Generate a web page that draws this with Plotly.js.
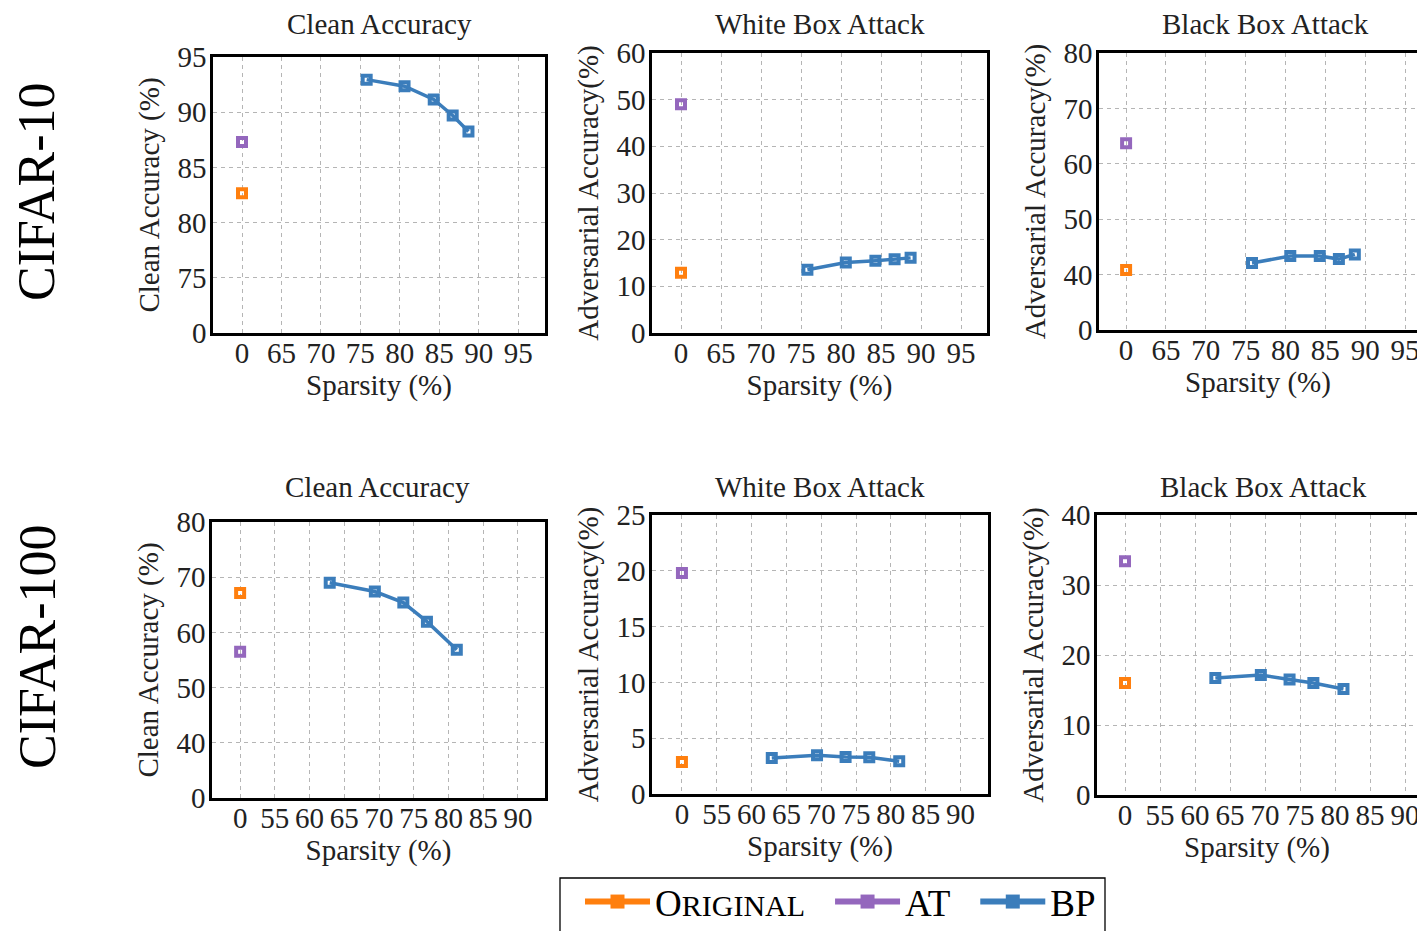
<!DOCTYPE html>
<html>
<head>
<meta charset="utf-8">
<script src="https://cdn.plot.ly/plotly-3.0.1.min.js"></script>
<style>
html,body{margin:0;padding:0;background:#fff;width:1417px;height:931px;overflow:hidden;}
#chart{width:1417px;height:960px;}
</style>
</head>
<body>
<div id="chart"></div>
<script>
// ---------------- data ----------------
const datasets = ['CIFAR-10', 'CIFAR-100'];
const panelTitles = ['Clean Accuracy', 'White Box Attack', 'Black Box Attack'];
const seriesNames = ['Original', 'AT', 'BP'];

// x tick labels (sparsity %), broken axis: 0 then regular steps
const xTicksC10 = [0, 65, 70, 75, 80, 85, 90, 95];
const xTicksC100 = [0, 55, 60, 65, 70, 75, 80, 85, 90];

// y tick labels
const yTicksC10Clean = [0, 75, 80, 85, 90, 95];
const yTicksC10White = [0, 10, 20, 30, 40, 50, 60];
const yTicksC10Black = [0, 40, 50, 60, 70, 80];
const yTicksC100Clean = [0, 40, 50, 60, 70, 80];
const yTicksC100White = [0, 5, 10, 15, 20, 25];
const yTicksC100Black = [0, 10, 20, 30, 40];

// sparsity of the original / adversarially trained dense models
const denseSparsity = [0];

// BP sparsity levels
const sparsityC10 = [75.8, 80.6, 84.3, 86.7, 88.7];
const sparsityC100 = [62.9, 69.4, 73.5, 76.9, 81.2];

// CIFAR-10
const c10CleanOriginal = [82.65];
const c10CleanAT = [87.3];
const c10CleanBP = [92.95, 92.35, 91.15, 89.7, 88.25];
const c10WhiteOriginal = [12.9];
const c10WhiteAT = [49.0];
const c10WhiteBP = [13.55, 15.1, 15.5, 15.8, 16.1];
const c10BlackOriginal = [40.85];
const c10BlackAT = [63.7];
const c10BlackBP = [42.1, 43.35, 43.35, 42.8, 43.65];

// CIFAR-100
const c100CleanOriginal = [67.15];
const c100CleanAT = [56.5];
const c100CleanBP = [69.0, 67.4, 65.4, 61.95, 56.85];
const c100WhiteOriginal = [2.87];
const c100WhiteAT = [19.8];
const c100WhiteBP = [3.23, 3.48, 3.31, 3.3, 2.94];
const c100BlackOriginal = [16.0];
const c100BlackAT = [33.4];
const c100BlackBP = [16.7, 17.15, 16.5, 16.0, 15.15];

// ---------------- styling / layout ----------------
const W = 1417, H = 960; // figure is taller than the 931px window: legend box is cut at the bottom
const FONT = 'Liberation Serif, Times New Roman, serif';
const FS = 29;
const colors = {Original: '#ff7f0e', AT: '#9467bd', BP: '#3b7dbb'};
const legendLabels = {Original: 'O<span style="font-size:30px">RIGINAL</span>', AT: 'AT', BP: 'BP'};

function makeScale(ticks, broken) {
  if (!broken) {
    return {pos: v => v, tickvals: ticks.slice(), ticktext: ticks.map(String), max: ticks[ticks.length - 1]};
  }
  const step = ticks[2] - ticks[1];
  return {
    pos: v => (v <= 0 ? 0 : 1 + (v - ticks[1]) / step),
    tickvals: ticks.map((t, i) => i),
    ticktext: ticks.map(String),
    max: ticks.length - 1
  };
}

const panels = [
  {row: 0, col: 0, xs: makeScale(xTicksC10, true), ys: makeScale(yTicksC10Clean, true),
   sx: sparsityC10, orig: c10CleanOriginal, at: c10CleanAT, bp: c10CleanBP,
   box: [213, 545, 57, 333], xr: [-0.735, 7.68], ytitle: 'Clean Accuracy (%)', tcx: 379},
  {row: 0, col: 1, xs: makeScale(xTicksC10, true), ys: makeScale(yTicksC10White, false),
   sx: sparsityC10, orig: c10WhiteOriginal, at: c10WhiteAT, bp: c10WhiteBP,
   box: [652, 987, 53, 333], xr: [-0.725, 7.65], ytitle: 'Adversarial Accuracy(%)', tcx: 820},
  {row: 0, col: 2, xs: makeScale(xTicksC10, true), ys: makeScale(yTicksC10Black, true),
   sx: sparsityC10, orig: c10BlackOriginal, at: c10BlackAT, bp: c10BlackBP,
   box: [1099, 1417, 53, 330], xr: [-0.68, 7.30], ytitle: 'Adversarial Accuracy(%)', tcx: 1265},
  {row: 1, col: 0, xs: makeScale(xTicksC100, true), ys: makeScale(yTicksC100Clean, true),
   sx: sparsityC100, orig: c100CleanOriginal, at: c100CleanAT, bp: c100CleanBP,
   box: [212, 545, 522, 798], xr: [-0.81, 8.78], ytitle: 'Clean Accuracy (%)', tcx: 377},
  {row: 1, col: 1, xs: makeScale(xTicksC100, true), ys: makeScale(yTicksC100White, false),
   sx: sparsityC100, orig: c100WhiteOriginal, at: c100WhiteAT, bp: c100WhiteBP,
   box: [652, 988, 515, 794], xr: [-0.86, 8.79], ytitle: 'Adversarial Accuracy(%)', tcx: 820},
  {row: 1, col: 2, xs: makeScale(xTicksC100, true), ys: makeScale(yTicksC100Black, false),
   sx: sparsityC100, orig: c100BlackOriginal, at: c100BlackAT, bp: c100BlackBP,
   box: [1097, 1417, 515, 795], xr: [-0.80, 8.34], ytitle: 'Adversarial Accuracy(%)', tcx: 1263}
];

const traces = [];
const layout = {
  width: W, height: H,
  margin: {l: 0, r: 0, t: 0, b: 0},
  paper_bgcolor: '#fff', plot_bgcolor: '#fff',
  font: {family: FONT, size: FS, color: '#111'},
  showlegend: true,
  legend: {
    orientation: 'h', x: 560 / W, y: 1 - 871 / H, xanchor: 'left', yanchor: 'top',
    borderwidth: 0, bgcolor: 'rgba(0,0,0,0)',
    font: {family: FONT, size: 37, color: '#000'},
    itemwidth: 65, indentation: 20, tracegroupgap: 0, traceorder: 'normal'
  },
  // legend frame (open at the bottom, like the cropped reference)
  shapes: [{type: 'rect', xref: 'paper', yref: 'paper', x0: 560 / W, x1: 1105 / W,
            y0: 1 - 878 / H, y1: -0.01, line: {color: '#000', width: 1.3}, fillcolor: 'rgba(0,0,0,0)'}],
  annotations: []
};

const markerStyle = c => ({symbol: 'square-open', size: 8, color: c, line: {width: 4, color: c}});

panels.forEach((p, i) => {
  const n = i + 1;
  const xa = 'x' + n, ya = 'y' + n;
  const xs = p.xs, ys = p.ys;
  const ox = denseSparsity.map(xs.pos);
  traces.push({x: ox, y: p.orig.map(ys.pos), xaxis: xa, yaxis: ya, type: 'scatter', mode: 'markers',
    name: 'Original', showlegend: false, marker: markerStyle(colors.Original), hoverinfo: 'skip'});
  traces.push({x: ox, y: p.at.map(ys.pos), xaxis: xa, yaxis: ya, type: 'scatter', mode: 'markers',
    name: 'AT', showlegend: false, marker: markerStyle(colors.AT), hoverinfo: 'skip'});
  traces.push({x: p.sx.map(xs.pos), y: p.bp.map(ys.pos), xaxis: xa, yaxis: ya, type: 'scatter',
    mode: 'lines+markers', name: 'BP', showlegend: false, line: {color: colors.BP, width: 3.5},
    marker: markerStyle(colors.BP), hoverinfo: 'skip'});

  const [l, r, t, b] = p.box;
  const common = {
    showline: true, linecolor: '#000', linewidth: 2.6,
    showgrid: true, gridcolor: '#b5b5b5', gridwidth: 1, griddash: '4px,4px',
    zeroline: false, ticks: '', fixedrange: true, ticklabeloverflow: 'allow',
    tickfont: {family: FONT, size: FS, color: '#222'}
  };
  layout['xaxis' + (n === 1 ? '' : n)] = Object.assign({}, common, {
    domain: [l / W, r / W], anchor: ya, range: p.xr, mirror: true,
    tickmode: 'array', tickvals: xs.tickvals, ticktext: xs.ticktext,
    ticklabelstandoff: -7,
    title: {text: 'Sparsity (%)', font: {family: FONT, size: FS, color: '#222'}, standoff: 4}
  });
  layout['yaxis' + (n === 1 ? '' : n)] = Object.assign({}, common, {
    domain: [1 - b / H, 1 - t / H], anchor: xa, range: [0, ys.max], mirror: p.col !== 2,
    tickmode: 'array', tickvals: ys.tickvals, ticktext: ys.ticktext,
    ticklabelstandoff: -2,
    title: {text: p.ytitle, font: {family: FONT, size: FS, color: '#222'}, standoff: 10}
  });
  layout.annotations.push({
    text: panelTitles[p.col], xref: 'paper', yref: 'paper',
    x: p.tcx / W, y: 1 - (p.row === 0 ? 24 : 487) / H, xanchor: 'center', yanchor: 'middle',
    showarrow: false, font: {family: FONT, size: FS, color: '#222'}
  });
});

datasets.forEach((d, i) => {
  layout.annotations.push({
    text: d, xref: 'paper', yref: 'paper', x: 37 / W, y: 1 - (i === 0 ? 192 : 647) / H,
    xanchor: 'center', yanchor: 'middle', textangle: -90, showarrow: false,
    font: {family: FONT, size: 52, color: '#000'}
  });
});

// legend entries
seriesNames.forEach(s => {
  traces.push({x: [null], y: [null], xaxis: 'x', yaxis: 'y', type: 'scatter', mode: 'lines+markers',
    name: legendLabels[s], showlegend: true, line: {color: colors[s], width: 6},
    marker: {symbol: 'square', size: 14, color: colors[s]}, hoverinfo: 'skip'});
});

Plotly.newPlot('chart', traces, layout, {staticPlot: true, displayModeBar: false});
</script>
</body>
</html>
